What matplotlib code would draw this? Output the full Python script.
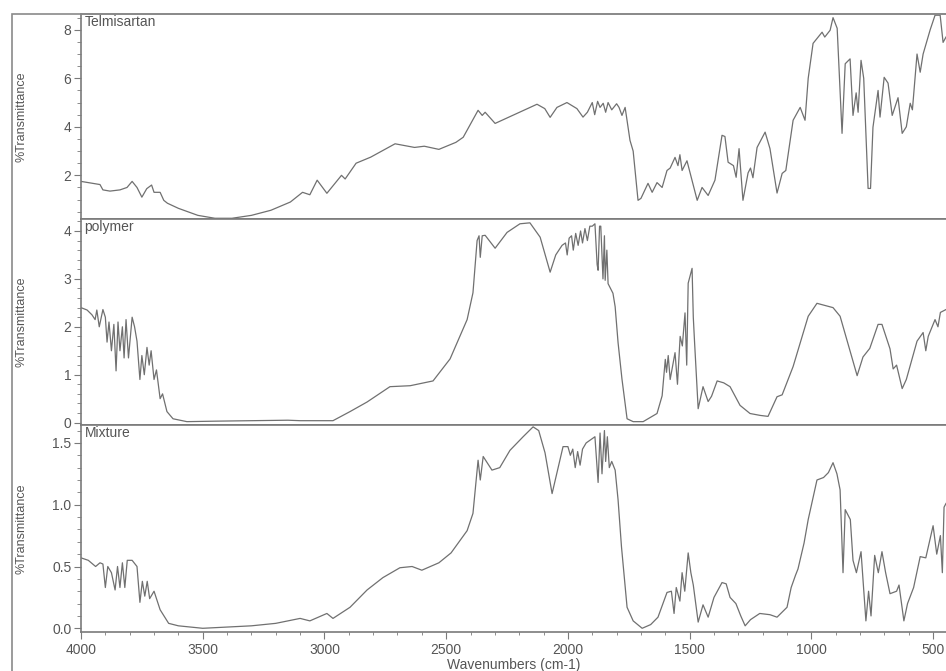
import matplotlib
matplotlib.use("Agg")
import matplotlib.pyplot as plt
from matplotlib.ticker import MultipleLocator
from matplotlib.patches import Rectangle

plt.rcParams['font.family'] = ['Liberation Sans', 'DejaVu Sans']

# ---------------- data ----------------
telmi_wn = [4000, 3922, 3910, 3881, 3840, 3811, 3790, 3770, 3750, 3730, 3710, 3700, 3675, 3660, 3645,
            3600, 3520, 3450, 3380, 3300, 3220, 3140, 3090, 3060, 3030, 2990, 2930, 2915, 2870, 2810,
            2710, 2630, 2590, 2530, 2460, 2430, 2369, 2352, 2340, 2299, 2210, 2127, 2095, 2073, 2045,
            2004, 1963, 1938, 1920, 1900, 1890, 1878, 1868, 1855, 1845, 1835, 1820, 1800, 1790, 1778,
            1765, 1745, 1732, 1712, 1700, 1671, 1654, 1634, 1613, 1593, 1580, 1560, 1548, 1540, 1531,
            1511, 1469, 1449, 1424, 1396, 1367, 1355, 1342, 1320, 1309, 1297, 1281, 1260, 1250, 1240,
            1223, 1190, 1170, 1141, 1120, 1105, 1075, 1046, 1026, 1013, 993, 956, 945, 923, 911, 894,
            874, 861, 841, 829, 816, 808, 796, 785, 767, 757, 747, 726, 718, 701, 685, 668, 644, 627,
            610, 594, 585, 566, 553, 541, 512, 492, 471, 459, 447]
telmi_t = [1.75, 1.62, 1.4, 1.35, 1.4, 1.5, 1.75, 1.5, 1.1, 1.45, 1.6, 1.3, 1.3, 0.97, 0.85,
           0.64, 0.35, 0.23, 0.23, 0.35, 0.56, 0.9, 1.3, 1.2, 1.8, 1.26, 2.0, 1.85, 2.5, 2.75,
           3.3, 3.15, 3.2, 3.07, 3.36, 3.57, 4.68, 4.47, 4.6, 4.14, 4.55, 4.93, 4.75, 4.39, 4.8,
           5.0, 4.75, 4.4, 4.6, 5.0, 4.5, 5.05, 4.8, 4.97, 4.6, 5.0, 4.7, 4.95, 4.8, 4.47,
           4.8, 3.44, 3.0, 0.97, 1.05, 1.67, 1.3, 1.7, 1.5, 2.2, 2.3, 2.74, 2.4, 2.85, 2.2,
           2.6, 0.97, 1.5, 1.17, 1.8, 3.65, 3.6, 2.54, 2.4, 1.92, 3.1, 0.97, 2.1, 2.3, 1.9,
           3.15, 3.78, 3.1, 1.27, 2.08, 2.2, 4.27, 4.8, 4.27, 6.0, 7.44, 7.9, 7.7, 7.98, 8.5, 8.06,
           3.73, 6.6, 6.8, 4.47, 5.4, 4.6, 6.74, 6.0, 1.46, 1.46, 3.98, 5.5, 4.4, 6.04, 5.8, 4.47, 5.2, 3.73,
           4.0, 4.97, 4.7, 7.0, 6.25, 7.0, 8.0, 8.6, 8.6, 7.48, 7.7]

poly_wn = [4000, 3975, 3955, 3942, 3935, 3925, 3910, 3900, 3893, 3885, 3875, 3865, 3856, 3848, 3840,
           3830, 3823, 3815, 3805, 3790, 3780, 3770, 3758, 3750, 3740, 3729, 3720, 3712, 3700, 3690,
           3675, 3665, 3647, 3622, 3565, 3450, 3300, 3150, 3100, 2965, 2895, 2825, 2731, 2648, 2554,
           2484, 2414, 2390, 2373, 2365, 2360, 2352, 2340, 2299, 2250, 2197, 2156, 2114, 2073, 2050,
           2024, 2010, 2003, 1995, 1985, 1978, 1968, 1958, 1948, 1940, 1930, 1920, 1910, 1900, 1889,
           1880, 1876, 1870, 1865, 1856, 1850, 1847, 1840, 1835, 1825, 1815, 1806, 1794, 1778, 1757,
           1732, 1691, 1634, 1613, 1600, 1595, 1588, 1580, 1560, 1550, 1539, 1530, 1519, 1512, 1506,
           1490, 1485, 1480, 1465, 1445, 1424, 1410, 1387, 1360, 1334, 1293, 1252, 1210, 1178, 1141,
           1120, 1075, 1013, 977, 911, 882, 812, 788, 760, 726, 710, 677, 664, 650, 627,
           610, 566, 541, 530, 520, 492, 480, 470, 447]
poly_t = [2.4, 2.35, 2.25, 2.15, 2.35, 2.0, 2.36, 2.2, 1.68, 2.1, 1.5, 2.05, 1.08, 2.1, 1.5,
          2.0, 1.35, 2.15, 1.35, 2.2, 2.0, 1.7, 0.9, 1.4, 1.0, 1.57, 1.2, 1.5, 0.9, 1.1,
          0.5, 0.6, 0.23, 0.08, 0.02, 0.03, 0.04, 0.05, 0.04, 0.04, 0.23, 0.43, 0.75, 0.77, 0.87,
          1.33, 2.15, 2.71, 3.8, 3.9, 3.45, 3.9, 3.91, 3.64, 3.97, 4.15, 4.17, 3.87, 3.14, 3.5,
          3.7, 3.75, 3.5, 3.85, 3.9, 3.6, 3.95, 3.7, 4.0, 3.75, 4.05, 3.8, 4.1, 4.1, 4.15,
          3.3, 3.18, 4.1, 4.1, 3.0, 3.9, 2.97, 3.6, 2.9, 2.8, 2.7, 2.42, 1.67, 0.91, 0.08,
          0.02, 0.02, 0.19, 0.56, 1.32, 1.05, 1.4, 0.9, 1.46, 0.8, 1.8, 1.6, 2.29, 1.2, 2.91,
          3.22, 2.2, 1.7, 0.29, 0.75, 0.44, 0.55, 0.87, 0.83, 0.75, 0.36, 0.19, 0.15, 0.13, 0.54,
          0.58, 1.17, 2.22, 2.49, 2.4, 2.22, 0.98, 1.37, 1.55, 2.05, 2.05, 1.54, 1.12, 1.2, 0.71,
          0.9, 1.7, 1.88, 1.5, 1.8, 2.15, 2.0, 2.3, 2.36]

mix_wn = [4000, 3970, 3940, 3922, 3910, 3900, 3890, 3875, 3860, 3850, 3840, 3830, 3820, 3810, 3790,
          3770, 3758, 3748, 3738, 3728, 3718, 3700, 3675, 3640, 3600, 3500, 3400, 3300, 3200, 3100,
          3060, 2990, 2965, 2895, 2825, 2760, 2690, 2640, 2600, 2530, 2480, 2414, 2390, 2369, 2360,
          2348, 2312, 2280, 2238, 2184, 2143, 2120, 2094, 2065, 2040, 2020, 2000, 1990, 1980, 1970,
          1960, 1950, 1940, 1925, 1889, 1876, 1868, 1860, 1850, 1845, 1838, 1830, 1820, 1806, 1794,
          1780, 1757, 1732, 1695, 1660, 1630, 1593, 1575, 1564, 1555, 1540, 1531, 1520, 1506, 1495,
          1485, 1465, 1445, 1424, 1400, 1367, 1350, 1334, 1310, 1290, 1272, 1250, 1212, 1170, 1141,
          1100, 1083, 1065, 1055, 1030, 1013, 977, 950, 930, 911, 895, 882, 870, 861, 840,
          829, 815, 796, 776, 765, 755, 740, 725, 710, 695, 677, 650, 640, 620, 605,
          580, 553, 530, 500, 485, 470, 462, 455, 447]
mix_t = [0.57, 0.55, 0.5, 0.53, 0.52, 0.33, 0.5, 0.45, 0.31, 0.5, 0.33, 0.53, 0.33, 0.55, 0.55,
         0.5, 0.21, 0.38, 0.26, 0.38, 0.24, 0.3, 0.15, 0.04, 0.02, 0.0, 0.01, 0.02, 0.04, 0.08,
         0.06, 0.12, 0.08, 0.17, 0.31, 0.41, 0.49, 0.5, 0.47, 0.53, 0.61, 0.79, 0.93, 1.36, 1.2,
         1.39, 1.28, 1.3, 1.44, 1.55, 1.63, 1.6, 1.42, 1.09, 1.3, 1.47, 1.47, 1.4, 1.45, 1.3,
         1.43, 1.32, 1.45, 1.5, 1.55, 1.18, 1.58, 1.25, 1.6, 1.35, 1.55, 1.3, 1.35, 1.28, 1.04,
         0.66, 0.17, 0.06, 0.0, 0.03, 0.09, 0.29, 0.3, 0.12, 0.33, 0.22, 0.45, 0.3, 0.61, 0.45,
         0.35, 0.05, 0.19, 0.09, 0.25, 0.37, 0.36, 0.25, 0.2, 0.1, 0.02, 0.07, 0.12, 0.11, 0.09,
         0.17, 0.33, 0.43, 0.48, 0.69, 0.88, 1.2, 1.22, 1.26, 1.34, 1.25, 1.12, 0.45, 0.96, 0.88,
         0.55, 0.45, 0.62, 0.06, 0.3, 0.1, 0.59, 0.45, 0.62, 0.45, 0.28, 0.3, 0.35, 0.06, 0.2,
         0.33, 0.58, 0.57, 0.83, 0.6, 0.75, 0.45, 0.98, 1.01]

labels = ["Telmisartan", "polymer", "Mixture"]
xticks = [4000, 3500, 3000, 2500, 2000, 1500, 1000, 500]
ylims = [(0.2, 8.65), (-0.05, 4.25), (-0.03, 1.645)]
yticks = [[2, 4, 6, 8], [0, 1, 2, 3, 4], [0.0, 0.5, 1.0, 1.5]]
yfmt = ["{:.0f}", "{:.0f}", "{:.1f}"]
yminor = [0.5, 0.2, 0.1]

# ---------------- figure ----------------
W, H = 946, 671
fig = plt.figure(figsize=(W / 100, H / 100), dpi=100)
LC = '#707070'
TC = '#555555'

# outer frame of the scanned page
fig.patches.append(Rectangle((12 / W, -0.01), 1.0, 1.01 - 14 / H, transform=fig.transFigure,
                             fill=False, edgecolor='#8a8a8a', linewidth=1.2))

left = 81 / W
width = 1.0 - left
bounds = [(14, 219), (219, 425), (425, 632)]
series = [(telmi_wn, telmi_t), (poly_wn, poly_t), (mix_wn, mix_t)]

for i, ((top, bot), (wn, tv)) in enumerate(zip(bounds, series)):
    ax = fig.add_axes([left, 1 - bot / H, width, (bot - top) / H])
    ax.plot(wn, tv, color=LC, linewidth=0.9)
    ax.set_xlim(4000, 447)
    ax.set_ylim(*ylims[i])
    ax.set_yticks(yticks[i])
    ax.set_yticklabels([yfmt[i].format(v) for v in yticks[i]])
    ax.yaxis.set_minor_locator(MultipleLocator(yminor[i]))
    for s in ax.spines.values():
        s.set_color('#7a7a7a')
        s.set_linewidth(1.2)
    ax.spines['right'].set_visible(False)
    ax.tick_params(axis='y', which='major', direction='out', length=5, color='#7a7a7a',
                   labelcolor=TC, labelsize=10, pad=2)
    ax.tick_params(axis='y', which='minor', direction='out', length=3, color='#7a7a7a')
    ax.set_ylabel("%Transmittance", color=TC, fontsize=9)
    ax.yaxis.set_label_coords(-54 / (W * width), 0.5)
    ax.text(0.004, 0.995, labels[i], transform=ax.transAxes, ha='left', va='top',
            color=TC, fontsize=10)
    if i < 2:
        ax.tick_params(axis='x', which='both', bottom=False, labelbottom=False)
    else:
        ax.set_xticks(xticks)
        ax.set_xticklabels([str(v) for v in xticks])
        ax.xaxis.set_minor_locator(MultipleLocator(100))
        ax.tick_params(axis='x', which='major', direction='out', length=5, color='#7a7a7a',
                       labelcolor=TC, labelsize=10, pad=3)
        ax.tick_params(axis='x', which='minor', direction='out', length=2.5, color='#7a7a7a')
        ax.set_xlabel("Wavenumbers (cm-1)", color=TC, fontsize=10, labelpad=1)

fig.savefig("out.png", dpi=100, facecolor='white')
